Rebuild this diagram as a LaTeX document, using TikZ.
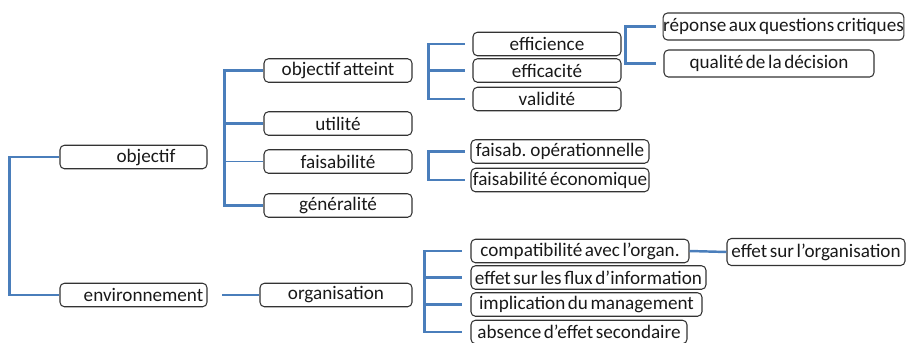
\documentclass[tikz,border=0pt]{standalone}
\usepackage{fontspec}
\setmainfont{Carlito}[WordSpace=0.6]
\usepackage{tikz}
\usetikzlibrary{calc}
\usetikzlibrary{positioning}
\definecolor{linkblue}{RGB}{74,126,187}
\tikzset{>=latex}
\tikzstyle{box} = [draw=black!80, line width=0.6pt, rounded corners=2.5pt, minimum height=0.47cm, inner sep=0, font=\fontsize{10.9}{12}\selectfont, text=black!90]
\tikzstyle{link} = [-, draw=linkblue, line width=1.4pt]

\begin{document}
\begin{tikzpicture}[x=0.02cm, y=-0.02cm]
\useasboundingbox (0,0) rectangle (907,342);
% first and second level
\node [box, minimum width=2.94cm] (obj) at (133.5, 157) {\hspace*{5mm}objectif};
\node [box, minimum width=2.94cm] (env) at (133.5, 295) {\hspace*{4mm}environnement};
\node [box, minimum width=2.96cm] (atteint) at (338, 70.5) {objectif atteint};
\node [box, minimum width=2.96cm] (util) at (338, 123.5) {utilité};
\node [box, minimum width=2.96cm] (faisab) at (338, 161.5) {faisabilité};
\node [box, minimum width=2.96cm] (gener) at (338, 205.5) {généralité};
\node [box, minimum width=3.04cm] (orga) at (336, 295) {organisation};
% third level
\node [box, minimum width=2.96cm] (effic) at (547, 44) {efficience};
\node [box, minimum width=2.96cm] (effca) at (547, 70.5) {efficacité};
\node [box, minimum width=2.96cm] (valid) at (547, 99) {validité};
\node [box, minimum width=3.56cm] (fop) at (560, 151.5) {faisab. opérationnelle};
\node [box, minimum width=3.56cm] (feco) at (560, 180) {faisabilité économique};
\node [box, minimum width=4.36cm] (compat) at (580, 251) {compatibilité avec l’organ.};
\node [box, minimum width=4.7cm] (flux) at (588.5, 277.5) {effet sur les flux d’information};
\node [box, minimum width=4.62cm] (impli) at (586.5, 304.5) {implication du management};
\node [box, minimum width=4.32cm] (absen) at (579, 332) {absence d’effet secondaire};
% fourth level
\node [box, minimum width=4.78cm, minimum height=0.54cm] (repon) at (783.5, 26.5) {réponse aux questions critiques};
\node [box, minimum width=4.2cm, minimum height=0.54cm] (quali) at (769, 63.5) {qualité de la décision};
\node [box, minimum width=3.56cm, minimum height=0.54cm] (effor) at (816, 252) {effet sur l’organisation};

\draw [link] (obj.west) -- ++(-50,0) |- (env.west);
\draw [link] (atteint.west) -- ++(-39,0) |- (gener.west);
\draw [link] (util.west) -- ++(-39,0);
\draw [link, line width=0.9pt] (faisab.west) -- ++(-39,0);
\draw [link, shorten <=8.5pt] (env.east) -- (orga.west);
\draw [link, shorten <=4.5pt, shorten >=4.5pt] (effic.west) -- ++(-44,0) |- (valid.west);
\draw [link, shorten <=4.5pt] (effca.west) -- ++(-44,0);
\draw [link, shorten <=4pt, shorten >=4pt] (repon.west) -- ++(-37,0) |- (quali.west);
\draw [link, shorten <=3.4pt, shorten >=3.4pt] (fop.west) -- ++(-42,0) |- (feco.west);
\draw [link, shorten <=5pt, shorten >=5pt] (compat.west) -- ++(-46,0) |- (absen.west);
\draw [link, shorten <=5pt] (flux.west) -- ++(-46,0);
\draw [link, shorten <=5pt] (impli.west) -- ++(-46,0);
\draw [link] (compat.east) -- (effor.west);
\end{tikzpicture}
\end{document}
